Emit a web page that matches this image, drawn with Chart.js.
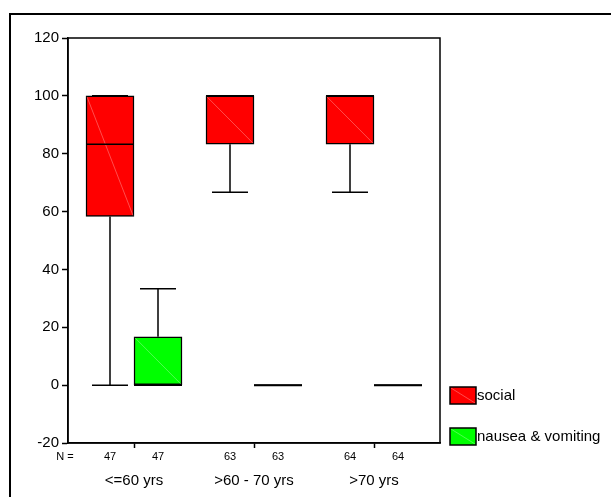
<!DOCTYPE html>
<html>
<head>
<meta charset="utf-8">
<script src="https://cdn.jsdelivr.net/npm/chart.js@4"></script>
<style>
  html, body { margin: 0; padding: 0; background: #fff; }
  #chart { display: block; }
</style>
</head>
<body>
<canvas id="chart" width="611" height="497"></canvas>
<script>
// age groups on the x axis
const groups = ['<=60 yrs', '>60 - 70 yrs', '>70 yrs'];
const yTicks = [-20, 0, 20, 40, 60, 80, 100, 120];

// social functioning, box plot stats per group
const socialMin = [0, 66.7, 66.7];
const socialQ1 = [58.3, 83.3, 83.3];
const socialMedian = [83.3, 100, 100];
const socialQ3 = [100, 100, 100];
const socialMax = [100, 100, 100];
const socialN = [47, 63, 64];

// nausea & vomiting
const nauseaMin = [0, 0, 0];
const nauseaQ1 = [0, 0, 0];
const nauseaMedian = [0, 0, 0];
const nauseaQ3 = [16.7, 0, 0];
const nauseaMax = [33.3, 0, 0];
const nauseaN = [47, 63, 64];

const FONT = '"Liberation Sans", Arial, sans-serif';
const shift = 0.2; // half a box width, in category units

const boxes = [
    { label: 'social', color: '#ff0000', min: socialMin, q1: socialQ1, med: socialMedian, q3: socialQ3, max: socialMax, n: socialN, off: -shift },
    { label: 'nausea & vomiting', color: '#00ff00', min: nauseaMin, q1: nauseaQ1, med: nauseaMedian, q3: nauseaQ3, max: nauseaMax, n: nauseaN, off: shift }
];

const boxPlotPlugin = {
    id: 'boxPlot',
    afterDatasetsDraw(chart) {
        const ctx = chart.ctx;
        const x = chart.scales.x, y = chart.scales.y;
        const area = chart.chartArea;
        const half = 24, capHalf = 18;
        ctx.save();
        boxes.forEach((b) => {
            groups.forEach((g, i) => {
                const cx = x.getPixelForValue(i + 1 + b.off);
                const top = y.getPixelForValue(b.q3[i]);
                const bot = y.getPixelForValue(b.q1[i]);
                // faint diagonal inside the box
                if (bot - top > 2) {
                    ctx.strokeStyle = 'rgba(255,255,255,0.3)';
                    ctx.lineWidth = 1;
                    ctx.beginPath();
                    ctx.moveTo(cx - half + 1, top + 1);
                    ctx.lineTo(cx + half - 1, bot - 1);
                    ctx.stroke();
                }
                ctx.strokeStyle = '#000';
                ctx.lineWidth = 1.5;
                ctx.beginPath();
                const yMax = y.getPixelForValue(b.max[i]);
                const yMin = y.getPixelForValue(b.min[i]);
                // whiskers
                ctx.moveTo(cx, top); ctx.lineTo(cx, yMax);
                ctx.moveTo(cx, bot); ctx.lineTo(cx, yMin);
                // caps
                ctx.moveTo(cx - capHalf, yMax); ctx.lineTo(cx + capHalf, yMax);
                ctx.moveTo(cx - capHalf, yMin); ctx.lineTo(cx + capHalf, yMin);
                // median
                const ym = y.getPixelForValue(b.med[i]);
                ctx.moveTo(cx - half, ym); ctx.lineTo(cx + half, ym);
                ctx.stroke();
                if (bot - top < 1) {
                    ctx.lineWidth = 2;
                    ctx.beginPath();
                    ctx.moveTo(cx - half, ym); ctx.lineTo(cx + half, ym);
                    ctx.stroke();
                }
            });
        });

        // frame round the plot
        ctx.strokeStyle = '#000';
        ctx.lineWidth = 1.5;
        ctx.strokeRect(area.left, area.top, area.right - area.left, area.bottom - area.top);

        // N row
        ctx.fillStyle = '#000';
        ctx.font = '11px ' + FONT;
        ctx.textAlign = 'center';
        ctx.textBaseline = 'middle';
        const ny = area.bottom + 14;
        ctx.fillText('N =', area.left - 3, ny);
        boxes.forEach((b) => {
            groups.forEach((g, i) => {
                ctx.fillText(String(b.n[i]), x.getPixelForValue(i + 1 + b.off), ny);
            });
        });

        // legend
        ctx.font = '15px ' + FONT;
        ctx.textAlign = 'left';
        const lx = area.right + 10;
        [area.bottom - 56, area.bottom - 15].forEach((ly, k) => {
            ctx.fillStyle = boxes[k].color;
            ctx.fillRect(lx, ly, 26, 17);
            ctx.strokeStyle = 'rgba(255,255,255,0.3)';
            ctx.lineWidth = 1;
            ctx.beginPath();
            ctx.moveTo(lx + 1, ly + 1); ctx.lineTo(lx + 25, ly + 16);
            ctx.stroke();
            ctx.strokeStyle = '#000';
            ctx.lineWidth = 1.5;
            ctx.strokeRect(lx, ly, 26, 17);
            ctx.fillStyle = '#000';
            ctx.fillText(boxes[k].label, lx + 27, ly + 9);
        });

        // outer page frame
        ctx.lineWidth = 2;
        ctx.beginPath();
        ctx.moveTo(10, chart.height);
        ctx.lineTo(10, 14);
        ctx.lineTo(chart.width, 14);
        ctx.stroke();
        ctx.restore();
    }
};

const ctxBox = document.getElementById('chart').getContext('2d');
new Chart(ctxBox, {
    type: 'bar',
    data: {
        datasets: boxes.map((b) => ({
            label: b.label,
            data: groups.map((g, i) => ({ x: i + 1 + b.off, y: [b.q1[i], b.q3[i]] })),
            backgroundColor: b.color,
            borderColor: '#000',
            borderWidth: 1.5,
            borderSkipped: false,
            barThickness: 48,
            grouped: false
        }))
    },
    options: {
        responsive: false,
        animation: false,
        layout: { padding: { top: 38, right: 171, left: 0, bottom: 0 } },
        plugins: {
            legend: { display: false },
            tooltip: { enabled: false }
        },
        scales: {
            x: {
                type: 'linear',
                offset: false,
                min: 0.45,
                max: 3.55,
                afterBuildTicks: (scale) => {
                    scale.ticks = groups.map((g, i) => ({ value: i + 1 }));
                },
                afterFit: (scale) => { scale.height = 54; },
                grid: { offset: false, drawOnChartArea: false, color: '#000', tickLength: 5, tickWidth: 1.5 },
                border: { color: '#000', width: 1.5 },
                ticks: {
                    autoSkip: false,
                    maxRotation: 0,
                    padding: 24,
                    color: '#000',
                    font: { family: FONT, size: 15 },
                    callback: (v) => groups[v - 1]
                }
            },
            y: {
                min: -20,
                max: 120,
                afterBuildTicks: (scale) => {
                    scale.ticks = yTicks.map((v) => ({ value: v }));
                },
                afterFit: (scale) => { scale.width = 68; },
                grid: { drawOnChartArea: false, color: '#000', tickLength: 6, tickWidth: 1.5 },
                border: { color: '#000', width: 1.5 },
                ticks: {
                    padding: 3,
                    color: '#000',
                    font: { family: FONT, size: 15 }
                }
            }
        }
    },
    plugins: [boxPlotPlugin]
});
</script>
</body>
</html>
